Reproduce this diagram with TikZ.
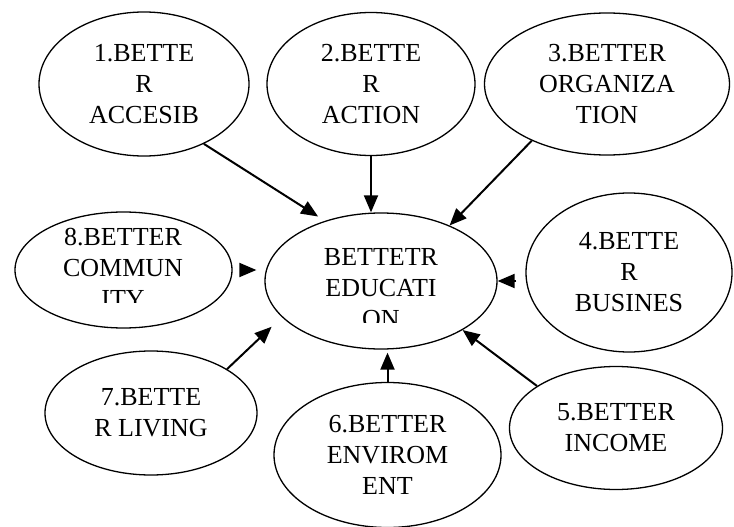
\documentclass[tikz,border=0pt]{standalone}
\usepackage{fontspec}
\setmainfont{Liberation Serif}
\usepackage{tikz}
\usetikzlibrary{shapes.geometric}
\usetikzlibrary{arrows.meta}

\begin{document}
\begin{tikzpicture}[->,>={Triangle[length=17pt,width=14pt]},x=1pt,y=-1pt,
    bubble/.style={ellipse,draw,line width=1.3pt,inner sep=0pt,align=center,font=\fontsize{26}{31}\selectfont},
    words/.style={inner sep=0pt,align=center,font=\fontsize{26}{31}\selectfont},
    link/.style={line width=2pt}]

	\useasboundingbox (0,0) rectangle (734,527);

	\node[bubble, minimum width=210pt, minimum height=144pt] (1) at (144,84) {1.BETTE\\R\\ACCESIB};
	\node[bubble, minimum width=208pt, minimum height=143pt] (2) at (371,84) {2.BETTE\\R\\ACTION};
	\node[bubble, minimum width=245pt, minimum height=142pt] (3) at (607,84) {3.BETTER\\ORGANIZA\\TION};
	\node[bubble, minimum width=206pt, minimum height=159pt] (4) at (629,272.5) {4.BETTE\\R\\BUSINES};
	\node[bubble, minimum width=213pt, minimum height=123pt] (5) at (616,428) {5.BETTER\\INCOME};
	\node[bubble, minimum width=227pt, minimum height=145pt] (6) at (387.5,455) {6.BETTER\\ENVIROM\\ENT};
	\node[bubble, minimum width=212pt, minimum height=124pt] (7) at (151,413) {7.BETTE\\R LIVING};
	\node[bubble, minimum width=217pt, minimum height=116pt] (8) at (123.5,270) {};
	\node[bubble, minimum width=232pt, minimum height=136pt] (edu) at (381,281) {};

	% text boxes cut off at the bottom
	\begin{scope}
		\clip (0,0) rectangle (260,302);
		\node[words] at (123,267.5) {8.BETTER\\COMMUN\\ITY};
	\end{scope}
	\begin{scope}
		\clip (265,200) rectangle (497,322);
		\node[words] at (381,288.5) {BETTETR\\EDUCATI\\ON};
	\end{scope}

	\path[link]
	(1.-45) edge [shorten >=8pt] (edu.133)
	(2.south) edge (2.south |- edu.north)
	(3.-143) edge (edu.39)
	(4.west |- edu.east) edge [shorten <=9pt] (edu.east)
	(5.152) edge (edu.-31)
	(6.north) edge [shorten >=3pt] (6.north |- edu.south)
	(7.30) edge [shorten >=14pt] (edu.-160)
	(8.east) edge [shorten <=8pt, shorten >=8pt] (8.east -| edu.west);

\end{tikzpicture}
\end{document}
